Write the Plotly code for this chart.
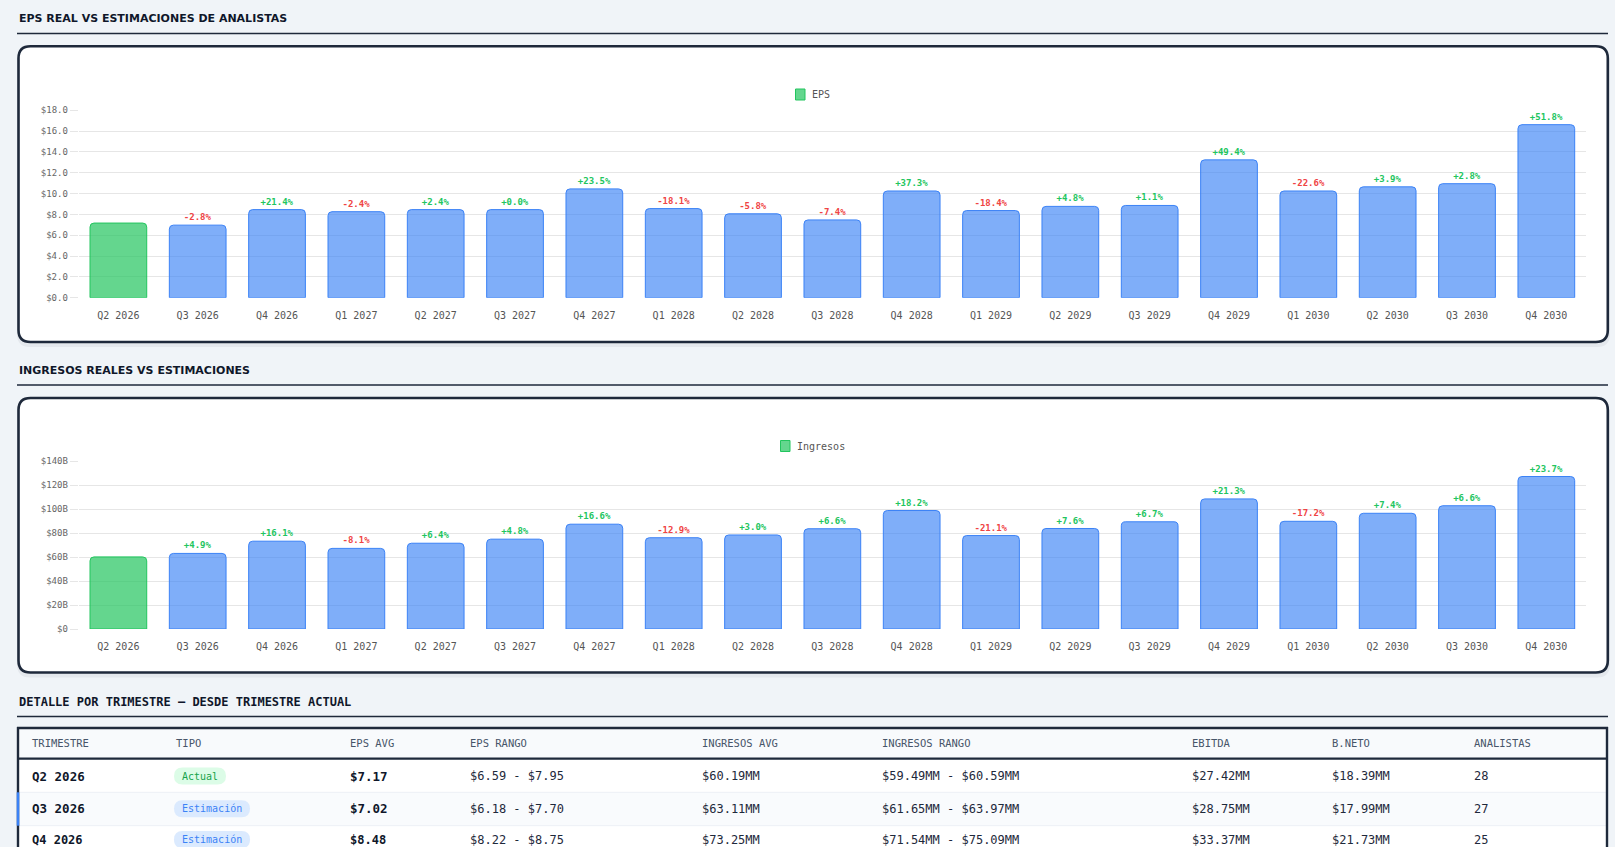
import plotly.graph_objects as go

# ---------------- data ----------------
quarters = ["Q2 2026", "Q3 2026", "Q4 2026", "Q1 2027", "Q2 2027", "Q3 2027", "Q4 2027",
            "Q1 2028", "Q2 2028", "Q3 2028", "Q4 2028", "Q1 2029", "Q2 2029", "Q3 2029",
            "Q4 2029", "Q1 2030", "Q2 2030", "Q3 2030", "Q4 2030"]
period_type = ["Actual"] + ["Estimación"] * 18

eps_values = [7.17, 6.97, 8.46, 8.26, 8.46, 8.46, 10.45, 8.56, 8.06, 7.47, 10.25,
              8.37, 8.77, 8.86, 13.24, 10.25, 10.65, 10.95, 16.62]
eps_change = ["", "-2.8%", "+21.4%", "-2.4%", "+2.4%", "+0.0%", "+23.5%", "-18.1%", "-5.8%",
              "-7.4%", "+37.3%", "-18.4%", "+4.8%", "+1.1%", "+49.4%", "-22.6%", "+3.9%",
              "+2.8%", "+51.8%"]

rev_values = [60.19, 63.1, 73.3, 67.3, 71.6, 75.0, 87.5, 76.2, 78.5, 83.7, 98.9,
              78.0, 83.9, 89.5, 108.6, 89.9, 96.6, 102.9, 127.3]
rev_change = ["", "+4.9%", "+16.1%", "-8.1%", "+6.4%", "+4.8%", "+16.6%", "-12.9%", "+3.0%",
              "+6.6%", "+18.2%", "-21.1%", "+7.6%", "+6.7%", "+21.3%", "-17.2%", "+7.4%",
              "+6.6%", "+23.7%"]

eps_tickvals = [0, 2, 4, 6, 8, 10, 12, 14, 16, 18]
eps_ticktext = ["$0.0", "$2.0", "$4.0", "$6.0", "$8.0", "$10.0", "$12.0", "$14.0", "$16.0", "$18.0"]
rev_tickvals = [0, 20, 40, 60, 80, 100, 120, 140]
rev_ticktext = ["$0", "$20B", "$40B", "$60B", "$80B", "$100B", "$120B", "$140B"]

table_headers = ["TRIMESTRE", "TIPO", "EPS AVG", "EPS RANGO", "INGRESOS AVG",
                 "INGRESOS RANGO", "EBITDA", "B.NETO", "ANALISTAS"]
table_quarter = ["Q2 2026", "Q3 2026", "Q4 2026"]
table_tipo = ["Actual", "Estimación", "Estimación"]
table_eps_avg = ["$7.17", "$7.02", "$8.48"]
table_eps_range = ["$6.59 - $7.95", "$6.18 - $7.70", "$8.22 - $8.75"]
table_rev_avg = ["$60.19MM", "$63.11MM", "$73.25MM"]
table_rev_range = ["$59.49MM - $60.59MM", "$61.65MM - $63.97MM", "$71.54MM - $75.09MM"]
table_ebitda = ["$27.42MM", "$28.75MM", "$33.37MM"]
table_neto = ["$18.39MM", "$17.99MM", "$21.73MM"]
table_analysts = ["28", "27", "25"]

titles = ["EPS REAL VS ESTIMACIONES DE ANALISTAS", "INGRESOS REALES VS ESTIMACIONES",
          "DETALLE POR TRIMESTRE — DESDE TRIMESTRE ACTUAL"]

# ---------------- style ----------------
W, H = 1615, 847
MONO = "DejaVu Sans Mono, Liberation Mono, monospace"
SANS = "DejaVu Sans, Liberation Sans, sans-serif"
DARK = "#1e293b"
BG = "#f0f4f8"
GRID = "#e6e6e6"
GREEN_FILL, GREEN_LINE = "rgba(34,197,94,0.7)", "#22c55e"
BLUE_FILL, BLUE_LINE = "rgba(59,130,246,0.65)", "#3b82f6"
POS, NEG = "#22c55e", "#ef4444"


def px(x):
    return x / W


def py(y):
    return 1 - y / H


def rrect_path(x0, y0, x1, y1, r):
    P = lambda x, y: f"{px(x):.6f},{py(y):.6f}"
    return (f"M{P(x0 + r, y0)} L{P(x1 - r, y0)} Q{P(x1, y0)} {P(x1, y0 + r)} "
            f"L{P(x1, y1 - r)} Q{P(x1, y1)} {P(x1 - r, y1)} L{P(x0 + r, y1)} "
            f"Q{P(x0, y1)} {P(x0, y1 - r)} L{P(x0, y0 + r)} Q{P(x0, y0)} {P(x0 + r, y0)} Z")


shapes = []
annotations = []


def add_rrect(x0, y0, x1, y1, r, fill, line_color=None, line_width=0, layer="below"):
    shapes.append(dict(type="path", xref="paper", yref="paper", path=rrect_path(x0, y0, x1, y1, r),
                       fillcolor=fill, line=dict(color=line_color or "rgba(0,0,0,0)", width=line_width),
                       layer=layer))


def add_line(x0, y0, x1, y1, color, width, layer="below"):
    shapes.append(dict(type="line", xref="paper", yref="paper", x0=px(x0), y0=py(y0), x1=px(x1), y1=py(y1),
                       line=dict(color=color, width=width), layer=layer))


def add_rect(x0, y0, x1, y1, fill, layer="below"):
    shapes.append(dict(type="rect", xref="paper", yref="paper", x0=px(x0), y0=py(y0), x1=px(x1), y1=py(y1),
                       fillcolor=fill, line=dict(width=0), layer=layer))


def add_text(x, y, text, size, color, family=MONO, weight="normal", xanchor="left"):
    annotations.append(dict(xref="paper", yref="paper", x=px(x), y=py(y), text=text, showarrow=False,
                            xanchor=xanchor, yanchor="middle",
                            font=dict(family=family, size=size, color=color, weight=weight)))


# section titles + rules
for title, ty in zip(titles[:2], [18.5, 370]):
    add_text(17, ty, title, 11, "#0f172a", family=SANS, weight="bold")
    add_line(17, ty + 15, 1608, ty + 15, DARK, 1.4)
add_text(17, 701.5, titles[2], 12, "#0f172a", family=MONO, weight="bold")
add_line(17, 716.5, 1608, 716.5, DARK, 1.4)

# cards
for (cy0, cy1) in [(46.3, 342), (398, 672.5)]:
    add_rrect(17, cy0 + 3, 1610, cy1 + 5, 13, "rgba(15,23,42,0.05)")
    add_rrect(18.5, cy0, 1607.8, cy1, 12, "white", DARK, 2.6)

# legends
for label, sx, ty in [("EPS", 795.5, 94.5), ("Ingresos", 780.5, 446)]:
    shapes.append(dict(type="rect", xref="paper", yref="paper", x0=px(sx), x1=px(sx + 9.5),
                       y0=py(ty - 5.5), y1=py(ty + 5.5), fillcolor=GREEN_FILL,
                       line=dict(color=GREEN_LINE, width=1), layer="above"))
    add_text(sx + 14, ty, label, 10, "#555")

# ---------------- bars ----------------
bar_fill = [GREEN_FILL if t == "Actual" else BLUE_FILL for t in period_type]
bar_line = [GREEN_LINE if t == "Actual" else BLUE_LINE for t in period_type]
eps_txt_col = [NEG if s.startswith("-") else POS for s in eps_change]
rev_txt_col = [NEG if s.startswith("-") else POS for s in rev_change]

fig = go.Figure()
fig.add_trace(go.Bar(x=quarters, y=eps_values, name="EPS", xaxis="x", yaxis="y",
                     marker=dict(color=bar_fill, line=dict(color=bar_line, width=1)),
                     text=eps_change, textposition="outside", cliponaxis=False,
                     textfont=dict(family=MONO, size=9, color=eps_txt_col, weight="bold"),
                     showlegend=False, hoverinfo="x+y"))
fig.add_trace(go.Bar(x=quarters, y=rev_values, name="Ingresos", xaxis="x2", yaxis="y2",
                     marker=dict(color=bar_fill, line=dict(color=bar_line, width=1)),
                     text=rev_change, textposition="outside", cliponaxis=False,
                     textfont=dict(family=MONO, size=9, color=rev_txt_col, weight="bold"),
                     showlegend=False, hoverinfo="x+y"))

xdom = [px(78.7), px(1586)]
xcommon = dict(domain=xdom, type="category", showgrid=False, zeroline=False, showline=False,
               automargin=False, ticks="outside", ticklen=8, tickcolor="rgba(0,0,0,0)",
               tickfont=dict(family=MONO, size=10, color="#555"), fixedrange=True)
ycommon = dict(showgrid=True, gridcolor=GRID, gridwidth=1, zeroline=False, showline=False,
               automargin=False, ticks="outside", ticklen=8, tickcolor=GRID,
               tickfont=dict(family=MONO, size=9, color="#666"), fixedrange=True)

# ---------------- table ----------------
col_x = [29.5, 174, 348, 468, 700, 879.5, 1190, 1330, 1471.5]
T_TOP, HDR_BOT = 728, 758.7
row_y = [776, 808.8, 839.6]
row_edges = [758.7, 792.3, 825.7, 859]

add_rect(17.5, T_TOP, 1607, HDR_BOT, "#f8fafc")
add_rect(17.5, row_edges[0], 1607, row_edges[1], "white")
add_rect(17.5, row_edges[1], 1607, row_edges[2], "#f9fbfd")
add_rect(17.5, row_edges[2], 1607, row_edges[3], "white")
add_line(17.5, row_edges[1], 1607, row_edges[1], "#edf1f6", 1)
add_line(17.5, row_edges[2], 1607, row_edges[2], "#edf1f6", 1)
add_line(17, T_TOP, 1608, T_TOP, DARK, 2.4)
add_line(17, HDR_BOT, 1608, HDR_BOT, DARK, 2.2)
add_line(18, T_TOP - 1, 18, 860, DARK, 2.4)
add_line(1607, T_TOP - 1, 1607, 860, DARK, 2.4)
add_line(18, row_edges[1], 18, row_edges[2], BLUE_LINE, 2.6, layer="above")

for h, cx in zip(table_headers, col_x):
    add_text(cx, 743.2, h, 10.5, "#475569")

for i, ry in enumerate(row_y):
    big = 12.5 if i < 2 else 12
    add_text(col_x[0], ry, table_quarter[i], big, "#0f172a", weight="bold")
    tipo = table_tipo[i]
    pw = len(tipo) * 6.0 + 16
    if tipo == "Actual":
        pfill, pcol = "#dcfce7", "#16a34a"
    else:
        pfill, pcol = "#dbeafe", "#3b82f6"
    add_rrect(col_x[1], ry - 8.5, col_x[1] + pw, ry + 8.5, 8.5, pfill)
    add_text(col_x[1] + pw / 2, ry, tipo, 10, pcol, xanchor="center")
    add_text(col_x[2], ry, table_eps_avg[i], big, "#0f172a", weight="bold")
    add_text(col_x[3], ry, table_eps_range[i], 12, DARK)
    add_text(col_x[4], ry, table_rev_avg[i], 12, DARK)
    add_text(col_x[5], ry, table_rev_range[i], 12, DARK)
    add_text(col_x[6], ry, table_ebitda[i], 12, DARK)
    add_text(col_x[7], ry, table_neto[i], 12, DARK)
    add_text(col_x[8], ry, table_analysts[i], 12, DARK)

fig.update_layout(
    template="none",
    width=W, height=H, autosize=False,
    margin=dict(l=0, r=0, t=0, b=0, pad=0),
    paper_bgcolor=BG, plot_bgcolor="rgba(0,0,0,0)",
    bargap=0.285, barcornerradius=4,
    xaxis=dict(anchor="y", **xcommon),
    yaxis=dict(anchor="x", domain=[py(297.7), py(110.3)], range=[0, 18],
               tickvals=eps_tickvals, ticktext=eps_ticktext, **ycommon),
    xaxis2=dict(anchor="y2", **xcommon),
    yaxis2=dict(anchor="x2", domain=[py(629), py(461.3)], range=[0, 140],
                tickvals=rev_tickvals, ticktext=rev_ticktext, **ycommon),
    shapes=shapes, annotations=annotations, showlegend=False,
)

fig.write_html("out.html", config={"displayModeBar": False},
               post_script="document.body.style.margin='0';document.documentElement.style.overflow='hidden';document.body.style.background='#f0f4f8';")
